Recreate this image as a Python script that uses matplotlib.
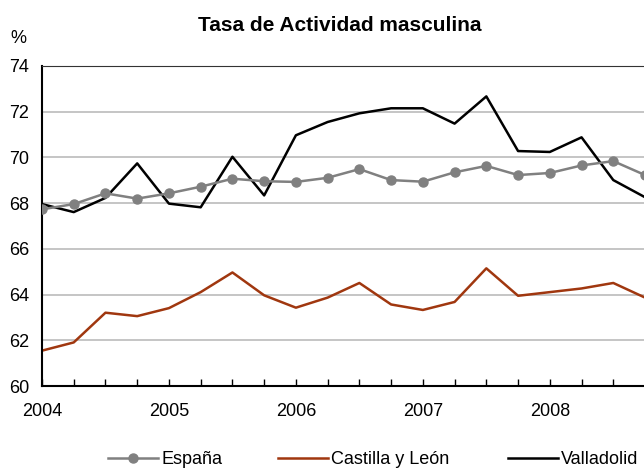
import numpy as np
import matplotlib.pyplot as plt
from matplotlib.lines import Line2D

plt.rcParams['font.family'] = ['Liberation Sans', 'DejaVu Sans']

# quarters from 2004 Q1 to 2008 Q4
quarters = np.arange(20)
years = [2004, 2005, 2006, 2007, 2008]

espana = [67.73, 67.96, 68.43, 68.20, 68.43, 68.72, 69.07, 68.96, 68.93, 69.11,
          69.49, 69.01, 68.94, 69.35, 69.63, 69.23, 69.32, 69.65, 69.84, 69.23]
castilla = [61.55, 61.91, 63.21, 63.06, 63.41, 64.11, 64.97, 63.97, 63.43, 63.87,
            64.51, 63.57, 63.33, 63.68, 65.15, 63.95, 64.11, 64.27, 64.51, 63.87]
valladolid = [67.96, 67.61, 68.23, 69.74, 67.98, 67.82, 70.03, 68.34, 70.97, 71.55,
              71.93, 72.15, 72.15, 71.48, 72.67, 70.28, 70.24, 70.88, 69.01, 68.26]

c_esp = "#808080"
c_cyl = "#a0370f"
c_vll = "#000000"
fsz = 13

fig = plt.figure(figsize=(6.44, 4.68), dpi=100)
ax = fig.add_axes([0.0652, 0.175, 0.9364, 0.684])

for v in [62, 64, 66, 68, 70, 72]:
    ax.axhline(v, color="#c0c0c0", lw=1.3, zorder=0)

ax.plot(quarters, espana, "-", color=c_esp, lw=1.8, marker="o", ms=6.5, zorder=3)
ax.plot(quarters, castilla, "-", color=c_cyl, lw=1.8, zorder=2)
ax.plot(quarters, valladolid, "-", color=c_vll, lw=1.8, zorder=2)

ax.set_xlim(0, 19)
ax.set_ylim(60, 74)
ax.set_yticks(np.arange(60, 75, 2))
ax.set_xticks([4 * i for i in range(len(years))])
ax.set_xticklabels([str(y) for y in years])
ax.set_xticks(quarters, minor=True)
ax.tick_params(axis="y", length=0, pad=9, labelsize=fsz)
ax.tick_params(axis="x", which="both", direction="in", length=5, width=1, pad=12.5, labelsize=fsz)

ax.spines["right"].set_visible(False)
ax.spines["top"].set_color("#333333")
ax.spines["left"].set_linewidth(1.5)
ax.spines["bottom"].set_linewidth(1.5)

fig.text(340 / 644, 1 - 31 / 468, "Tasa de Actividad masculina", ha="center", va="baseline",
         fontsize=15, fontweight="bold")
fig.text(18 / 644, 1 - 43 / 468, "%", ha="center", va="baseline", fontsize=fsz)

entries = [
    (Line2D([], [], color=c_esp, lw=1.8, marker="o", ms=6.5), "España", 108),
    (Line2D([], [], color=c_cyl, lw=1.8), "Castilla y León", 278),
    (Line2D([], [], color=c_vll, lw=1.8), "Valladolid", 508),
]
for h, lab, xp in entries:
    fig.legend([h], [lab], loc="center left", bbox_to_anchor=(xp / 644, 1 - 460 / 468),
               frameon=False, fontsize=fsz, handlelength=2.75, handletextpad=0.2,
               borderpad=0, borderaxespad=0)

fig.savefig("out.png", dpi=100)
